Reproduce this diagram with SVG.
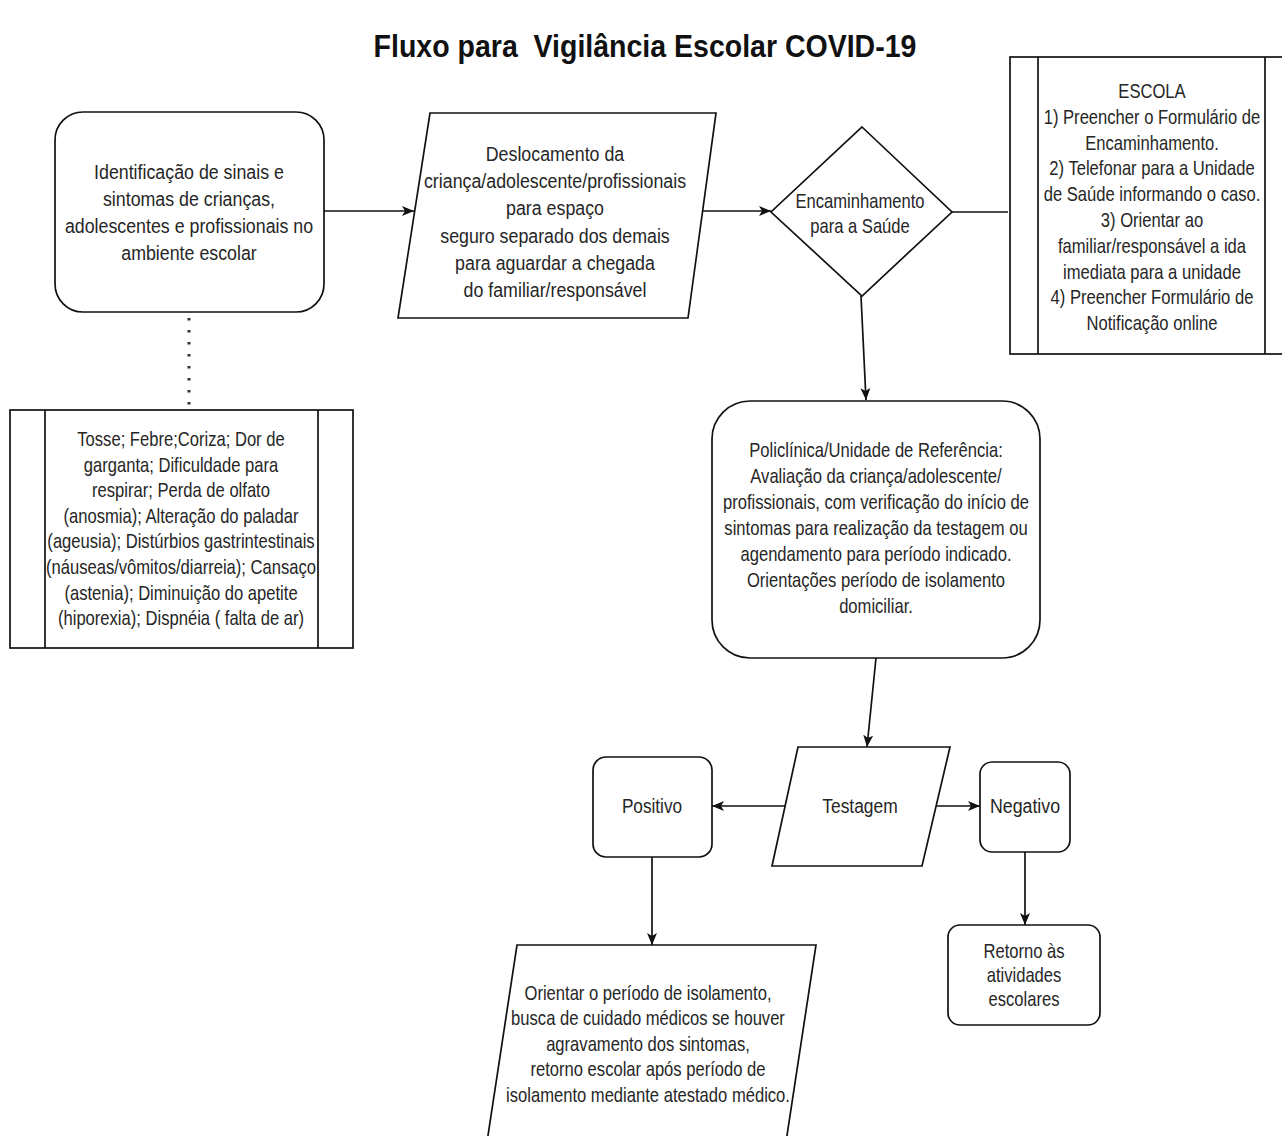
<svg xmlns="http://www.w3.org/2000/svg" width="1282" height="1136" viewBox="0 0 1282 1136">
<style>
.t{font-family:"Liberation Sans",Arial,sans-serif;font-size:20px;fill:#262626;text-anchor:middle}
.ti{font-family:"Liberation Sans",Arial,sans-serif;font-size:31px;font-weight:bold;fill:#111;text-anchor:middle}
.s{fill:#fff;stroke:#111;stroke-width:1.7}
.c{fill:none;stroke:#111;stroke-width:1.7}
.d{fill:none;stroke:#333;stroke-width:3;stroke-dasharray:2.5 9.5}
</style>
<defs>
<marker id="ah" markerUnits="userSpaceOnUse" viewBox="0 0 12 10" refX="12" refY="5" markerWidth="12" markerHeight="10" orient="auto">
<path d="M0,0 L12,5 L0,10 L3,5 Z" fill="#111"/>
</marker>
</defs>
<rect width="1282" height="1136" fill="#fff"/>
<text class="ti" xml:space="preserve" transform="matrix(0.92 0 0 1 645 0)" x="0" y="57">Fluxo para  Vigilância Escolar COVID-19</text>

<g id="connectors">
<line class="c" x1="324" y1="211" x2="414" y2="211" marker-end="url(#ah)"/>
<line class="c" x1="702" y1="211" x2="771" y2="211" marker-end="url(#ah)"/>
<line class="c" x1="952" y1="212" x2="1008" y2="212"/>
<line class="c" x1="861" y1="296" x2="866" y2="400" marker-end="url(#ah)"/>
<line class="c" x1="876" y1="658" x2="867" y2="747" marker-end="url(#ah)"/>
<line class="c" x1="785" y1="806" x2="712" y2="806" marker-end="url(#ah)"/>
<line class="c" x1="936" y1="806" x2="980" y2="806" marker-end="url(#ah)"/>
<line class="c" x1="652" y1="857" x2="652" y2="945" marker-end="url(#ah)"/>
<line class="c" x1="1025" y1="852" x2="1025" y2="925" marker-end="url(#ah)"/>
<line class="d" x1="189" y1="318" x2="189" y2="410"/>
</g>

<g id="n-identificacao">
<rect class="s" x="55" y="112" width="269" height="200" rx="28"/>
<text class="t" transform="matrix(0.89 0 0 1 189 0)"><tspan x="0" y="179">Identificação de sinais e</tspan><tspan x="0" y="206">sintomas de crianças,</tspan><tspan x="0" y="233">adolescentes e profissionais no</tspan><tspan x="0" y="260">ambiente escolar</tspan></text>
</g>

<g id="n-sintomas">
<rect class="s" x="10" y="410" width="343" height="238"/>
<line class="c" x1="45" y1="410" x2="45" y2="648"/>
<line class="c" x1="318" y1="410" x2="318" y2="648"/>
<text class="t" transform="matrix(0.83 0 0 1 181 0)"><tspan x="0" y="446">Tosse; Febre;Coriza; Dor de</tspan><tspan x="0" y="471.6">garganta; Dificuldade para</tspan><tspan x="0" y="497.2">respirar; Perda de olfato</tspan><tspan x="0" y="522.8">(anosmia); Alteração do paladar</tspan><tspan x="0" y="548.4">(ageusia); Distúrbios gastrintestinais</tspan><tspan x="0" y="574">(náuseas/vômitos/diarreia); Cansaço</tspan><tspan x="0" y="599.6">(astenia); Diminuição do apetite</tspan><tspan x="0" y="625.2">(hiporexia); Dispnéia ( falta de ar)</tspan></text>
</g>

<g id="n-deslocamento">
<polygon class="s" points="430,113 716,113 688,318 398,318"/>
<text class="t" transform="matrix(0.89 0 0 1 555 0)"><tspan x="0" y="161">Deslocamento da</tspan><tspan x="0" y="188">criança/adolescente/profissionais</tspan><tspan x="0" y="215">para espaço</tspan><tspan x="0" y="243">seguro separado dos demais</tspan><tspan x="0" y="270">para aguardar a chegada</tspan><tspan x="0" y="297">do familiar/responsável</tspan></text>
</g>

<g id="n-encaminhamento">
<polygon class="s" points="862,127 952,212 862,296 771,212"/>
<text class="t" transform="matrix(0.83 0 0 1 860 0)"><tspan x="0" y="208">Encaminhamento</tspan><tspan x="0" y="233">para a Saúde</tspan></text>
</g>

<g id="n-escola">
<rect class="s" x="1010" y="57" width="283" height="297"/>
<line class="c" x1="1038" y1="57" x2="1038" y2="354"/>
<line class="c" x1="1265" y1="57" x2="1265" y2="354"/>
<text class="t" transform="matrix(0.83 0 0 1 1152 0)"><tspan x="0" y="98">ESCOLA</tspan><tspan x="0" y="123.8">1) Preencher o Formulário de</tspan><tspan x="0" y="149.6">Encaminhamento.</tspan><tspan x="0" y="175.4">2) Telefonar para a Unidade</tspan><tspan x="0" y="201.2">de Saúde informando o caso.</tspan><tspan x="0" y="227">3) Orientar ao</tspan><tspan x="0" y="252.8">familiar/responsável a ida</tspan><tspan x="0" y="278.6">imediata para a unidade</tspan><tspan x="0" y="304.4">4) Preencher Formulário de</tspan><tspan x="0" y="330.2">Notificação online</tspan></text>
</g>

<g id="n-policlinica">
<rect class="s" x="712" y="401" width="328" height="257" rx="38"/>
<text class="t" transform="matrix(0.83 0 0 1 876 0)"><tspan x="0" y="457">Policlínica/Unidade de Referência:</tspan><tspan x="0" y="483">Avaliação da criança/adolescente/</tspan><tspan x="0" y="509">profissionais, com verificação do início de</tspan><tspan x="0" y="535">sintomas para realização da testagem ou</tspan><tspan x="0" y="561">agendamento para período indicado.</tspan><tspan x="0" y="587">Orientações período de isolamento</tspan><tspan x="0" y="613">domiciliar.</tspan></text>
</g>

<g id="n-testagem">
<polygon class="s" points="798,747 950,747 922,866 772,866"/>
<text class="t" transform="matrix(0.87 0 0 1 860 0)"><tspan x="0" y="813">Testagem</tspan></text>
</g>

<g id="n-positivo">
<rect class="s" x="593" y="757" width="119" height="100" rx="13"/>
<text class="t" transform="matrix(0.86 0 0 1 652 0)"><tspan x="0" y="813">Positivo</tspan></text>
</g>

<g id="n-negativo">
<rect class="s" x="980" y="762" width="90" height="90" rx="12"/>
<text class="t" transform="matrix(0.89 0 0 1 1025 0)"><tspan x="0" y="813">Negativo</tspan></text>
</g>

<g id="n-orientar">
<polygon class="s" points="517,945 816,945 786,1142 487,1142"/>
<text class="t" transform="matrix(0.83 0 0 1 648 0)"><tspan x="0" y="1000">Orientar o período de isolamento,</tspan><tspan x="0" y="1025.5">busca de cuidado médicos se houver</tspan><tspan x="0" y="1051">agravamento dos sintomas,</tspan><tspan x="0" y="1076.5">retorno escolar após período de</tspan><tspan x="0" y="1102">isolamento mediante atestado médico.</tspan></text>
</g>

<g id="n-retorno">
<rect class="s" x="948" y="925" width="152" height="100" rx="12"/>
<text class="t" transform="matrix(0.83 0 0 1 1024 0)"><tspan x="0" y="958">Retorno às</tspan><tspan x="0" y="982">atividades</tspan><tspan x="0" y="1006">escolares</tspan></text>
</g>
</svg>
